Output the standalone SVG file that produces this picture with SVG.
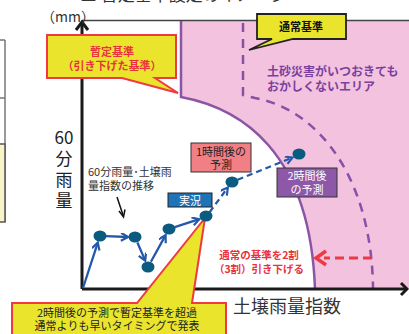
<svg xmlns="http://www.w3.org/2000/svg" width="409" height="334" viewBox="0 0 409 334">
<defs>
<style>
text{font-family:"Noto Sans CJK JP","Noto Sans",sans-serif;}
.ax{stroke:#1a1a1a;stroke-width:3;fill:none;}
.dot{fill:#0b5a80;}
.bl{stroke:#2458aa;stroke-width:2.3;fill:none;}
.bd{stroke-dasharray:6,4;}
.lbl{font-size:11px;text-anchor:middle;}
.red{fill:#e8333c;font-weight:bold;}
.yl{font-size:17px;fill:#222;text-anchor:middle;}
</style>
<marker id="ah" markerWidth="10" markerHeight="10" refX="8" refY="4" orient="auto" markerUnits="userSpaceOnUse">
<path d="M1,0 L8,4 L1,8" fill="none" stroke="#2458aa" stroke-width="2.2"/>
</marker>
</defs>
<rect width="409" height="334" fill="#ffffff"/>
<text x="80" y="1" font-size="17" fill="#333">■ 暫定基準設定のイメージ</text>

<g id="left-panel">
<line x1="5" y1="40" x2="5" y2="222" stroke="#777" stroke-width="1.5"/>
<line x1="0" y1="40" x2="5" y2="40" stroke="#777" stroke-width="1.5"/>
<line x1="0" y1="98" x2="5" y2="98" stroke="#777" stroke-width="1.5"/>
<rect x="-5" y="144" width="10" height="78" fill="#f7f5c8" stroke="#555" stroke-width="1.5"/>
</g>

<g id="pink-area">
<path d="M181,21 L409,21 L409,289 L315,289 C310,150 240,108 181,97 Z" fill="#f3c2df"/>
<path d="M181,21 L181,97 C240,108 310,150 315,289" fill="none" stroke="#8b55a5" stroke-width="2.5"/>
<path d="M243,23 L243,95 L255,98 C320,110 372,180 373,289" fill="none" stroke="#8a4fa6" stroke-width="2.5" stroke-dasharray="9,7"/>
<text font-size="12" font-weight="bold" fill="#7b3f9e"><tspan x="267" y="76">土砂災害がいつおきても</tspan><tspan x="267" y="90.5">おかしくないエリア</tspan></text>
</g>

<g id="axes">
<line x1="82" y1="20.5" x2="409" y2="20.5" stroke="#444" stroke-width="1.5"/>
<line class="ax" x1="82" y1="289" x2="82" y2="23"/>
<path class="ax" d="M76,30 L82,22 L88,30"/>
<line class="ax" x1="82" y1="289" x2="407" y2="289"/>
<path class="ax" d="M401,283 L407,289 L401,295"/>
<text x="41" y="22" font-size="14" fill="#333">（mm）</text>
<text class="yl"><tspan x="64" y="144">60</tspan><tspan x="64" y="165">分</tspan><tspan x="64" y="186">雨</tspan><tspan x="64" y="207">量</tspan></text>
<text x="233" y="313" font-size="18" fill="#333">土壌雨量指数</text>
</g>

<g id="callout-provisional">
<path d="M47,35 L176,35 L176,78 L155,78 L178,93 L122,78 L47,78 Z" fill="#eae52c" stroke="#ee3a43" stroke-width="2"/>
<text class="lbl red"><tspan x="112" y="56">暫定基準</tspan><tspan x="112" y="70">（引き下げた基準）</tspan></text>
</g>

<g id="callout-normal">
<path d="M257,14 L346,14 L346,39 L293,39 L249,50 L272,39 L257,39 Z" fill="#eae52c" stroke="#222" stroke-width="1.8"/>
<text x="301" y="31" class="lbl" font-weight="bold" fill="#111">通常基準</text>
</g>

<g id="label-trend">
<text font-size="11" fill="#333"><tspan x="88" y="176">60分雨量･土壌雨</tspan><tspan x="88" y="189.5">量指数の推移</tspan></text>
</g>

<g id="callout-bottom">
<path d="M12,303 L137,303 L205,218 L192,303 L226,303 L226,340 L12,340 Z" fill="#eae52c" stroke="#ee3a43" stroke-width="2"/>
<text class="lbl" fill="#222" font-size="10.5"><tspan x="117" y="316.5">2時間後の予測で暫定基準を超過</tspan><tspan x="117" y="330">通常よりも早いタイミングで発表</tspan></text>
</g>

<g id="connectors">
<line x1="117" y1="197" x2="123" y2="215" stroke="#111" stroke-width="1.5"/>
<path d="M119,211 L123.5,217 L125,209.5" fill="none" stroke="#111" stroke-width="1.5"/>
<line class="bl" x1="83" y1="288" x2="97.8" y2="242.7" marker-end="url(#ah)"/>
<line class="bl" x1="106" y1="236.2" x2="128" y2="237" marker-end="url(#ah)"/>
<line class="bl" x1="137.4" y1="242.5" x2="145.2" y2="260.6" marker-end="url(#ah)"/>
<line class="bl" x1="150.9" y1="261.7" x2="165.6" y2="235.1" marker-end="url(#ah)"/>
<line class="bl" x1="174.7" y1="227.1" x2="199.3" y2="219.2" marker-end="url(#ah)"/>
<line class="bl bd" x1="209.6" y1="212.2" x2="227.8" y2="187.6" marker-end="url(#ah)"/>
<line class="bl bd" x1="237.6" y1="179.8" x2="292.5" y2="157.6" marker-end="url(#ah)"/>
<line x1="372" y1="258" x2="324" y2="258" stroke="#ee3a43" stroke-width="3" stroke-dasharray="9,5"/>
<path d="M326,251 L316,258 L326,265" fill="none" stroke="#ee3a43" stroke-width="3.5"/>
</g>

<g id="points">
<ellipse class="dot" cx="100" cy="236" rx="6.5" ry="5.5"/>
<ellipse class="dot" cx="135" cy="237" rx="6.5" ry="5.5"/>
<ellipse class="dot" cx="148" cy="267" rx="6.5" ry="5.5"/>
<ellipse class="dot" cx="169" cy="229" rx="6.5" ry="5.5"/>
<ellipse class="dot" cx="206" cy="216" rx="6.5" ry="5.5"/>
<ellipse class="dot" cx="232" cy="182" rx="6.5" ry="5.5"/>
<ellipse class="dot" cx="299" cy="154" rx="6.5" ry="5.5"/>
</g>

<g id="label-actual">
<rect x="168" y="193" width="44" height="14" fill="#1f73b8" stroke="#222" stroke-width="1"/>
<text x="190" y="204.5" class="lbl" fill="#fff">実況</text>
</g>

<g id="label-1h">
<rect x="191" y="143" width="60" height="29" fill="#f07f86" stroke="#333" stroke-width="1"/>
<text class="lbl" fill="#222"><tspan x="221" y="155.5">1時間後の</tspan><tspan x="221" y="169">予測</tspan></text>
</g>

<g id="label-2h">
<rect x="277" y="168" width="60" height="29" fill="#8e58a8" stroke="#333" stroke-width="1"/>
<text class="lbl" fill="#fff"><tspan x="307" y="180">2時間後</tspan><tspan x="307" y="194">の予測</tspan></text>
</g>

<g id="label-lower">
<text font-size="10.5" text-anchor="middle" class="red"><tspan x="259" y="259">通常の基準を2割</tspan><tspan x="259" y="273">（3割）引き下げる</tspan></text>
</g>
</svg>
